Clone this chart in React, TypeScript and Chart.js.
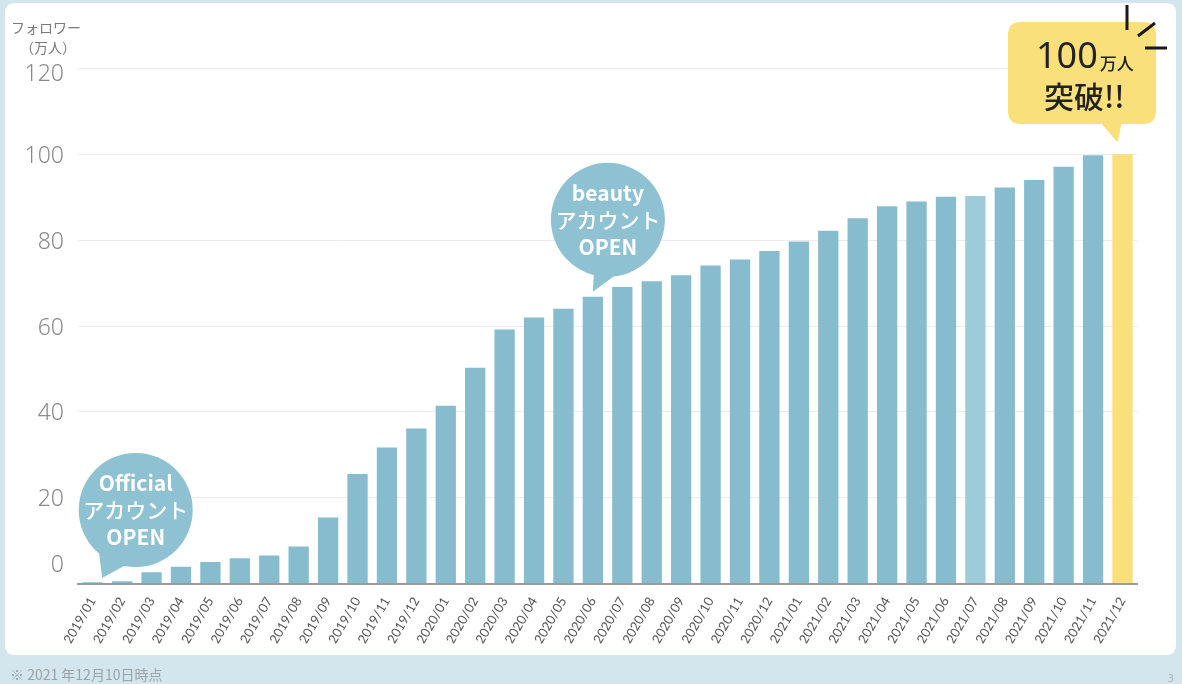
import React, { useEffect, useRef } from "react";
import { Chart, registerables } from "chart.js";

Chart.register(...registerables);

const months = [
  "2019/01", "2019/02", "2019/03", "2019/04", "2019/05", "2019/06",
  "2019/07", "2019/08", "2019/09", "2019/10", "2019/11", "2019/12",
  "2020/01", "2020/02", "2020/03", "2020/04", "2020/05", "2020/06",
  "2020/07", "2020/08", "2020/09", "2020/10", "2020/11", "2020/12",
  "2021/01", "2021/02", "2021/03", "2021/04", "2021/05", "2021/06",
  "2021/07", "2021/08", "2021/09", "2021/10", "2021/11", "2021/12",
];

// followers (万人)
const followers = [
  0.3, 0.5, 2.6, 3.9, 5.0, 5.9, 6.5, 8.6, 15.4, 25.5, 31.7, 36.1,
  41.4, 50.3, 59.2, 62.0, 64.0, 66.8, 69.1, 70.4, 71.8, 74.1, 75.5, 77.5,
  79.7, 82.2, 85.1, 87.9, 89.0, 90.1, 90.3, 92.3, 94.0, 97.1, 99.8, 100,
];

const yTicks = [0, 20, 40, 60, 80, 100, 120];

const BAR = "#86bccd";
const BAR_LIGHT = "#9ecbd9";
const YELLOW = "#f9e07b";
const BUBBLE = "#8ec1d1";
const PAGE_BG = "#d3e5ed";

const barColors = followers.map((_, i) =>
  i === followers.length - 1 ? YELLOW : i === 30 ? BAR_LIGHT : BAR
);

const CJK = '"Noto Sans CJK JP", "Noto Sans", sans-serif';

function roundRect(ctx: CanvasRenderingContext2D, x: number, y: number, w: number, h: number, r: number) {
  ctx.beginPath();
  ctx.moveTo(x + r, y);
  ctx.lineTo(x + w - r, y);
  ctx.quadraticCurveTo(x + w, y, x + w, y + r);
  ctx.lineTo(x + w, y + h - r);
  ctx.quadraticCurveTo(x + w, y + h, x + w - r, y + h);
  ctx.lineTo(x + r, y + h);
  ctx.quadraticCurveTo(x, y + h, x, y + h - r);
  ctx.lineTo(x, y + r);
  ctx.quadraticCurveTo(x, y, x + r, y);
  ctx.closePath();
}

function bubble(
  ctx: CanvasRenderingContext2D,
  cx: number,
  cy: number,
  r: number,
  tail: [number, number][],
  lines: string[]
) {
  ctx.save();
  ctx.fillStyle = BUBBLE;
  ctx.beginPath();
  ctx.arc(cx, cy, r, 0, Math.PI * 2);
  ctx.fill();
  ctx.beginPath();
  ctx.moveTo(tail[0][0], tail[0][1]);
  ctx.lineTo(tail[1][0], tail[1][1]);
  ctx.lineTo(tail[2][0], tail[2][1]);
  ctx.closePath();
  ctx.fill();
  ctx.fillStyle = "#ffffff";
  ctx.textAlign = "center";
  ctx.textBaseline = "middle";
  const gap = 27;
  lines.forEach((t, i) => {
    ctx.font = i === 1 ? `500 21px ${CJK}` : `bold 21px ${CJK}`;
    ctx.fillText(t, cx, cy + (i - 1) * gap);
  });
  ctx.restore();
}

const decorPlugin = {
  id: "decor",
  beforeDraw(chart: any) {
    const ctx: CanvasRenderingContext2D = chart.ctx;
    ctx.save();
    ctx.fillStyle = PAGE_BG;
    ctx.fillRect(0, 0, chart.width, chart.height);
    ctx.fillStyle = "#ffffff";
    roundRect(ctx, 5, 3, 1171, 652, 10);
    ctx.fill();
    ctx.restore();
  },
  afterDraw(chart: any) {
    const ctx: CanvasRenderingContext2D = chart.ctx;
    const xs = chart.scales.x;
    const ys = chart.scales.y;
    ctx.save();

    // y tick labels
    ctx.fillStyle = "#8a8a8a";
    ctx.font = '300 23px "Noto Sans", sans-serif';
    ctx.textAlign = "right";
    ctx.textBaseline = "middle";
    yTicks.forEach((v) => {
      const y = ys.getPixelForValue(v) + (v === 0 ? -18 : v === 120 ? 6 : 2);
      ctx.fillText(String(v), 64, y);
    });

    // axis title
    ctx.fillStyle = "#7a7a7a";
    ctx.font = `14px ${CJK}`;
    ctx.textAlign = "left";
    ctx.fillText("フォロワー", 11, 28);
    ctx.textAlign = "center";
    ctx.fillText("（万人）", 48, 48);

    // Official bubble
    const t1x = xs.getPixelForValue(0) + 9.5;
    const t1y = ys.getPixelForValue(0) - 5.5;
    const c1x = t1x + 33.5;
    const c1y = t1y - 68;
    bubble(
      ctx,
      c1x,
      c1y,
      57,
      [
        [c1x - 37, c1y + 40],
        [c1x - 10, c1y + 55],
        [t1x, t1y],
      ],
      ["Official", "アカウント", "OPEN"]
    );

    // beauty bubble
    const t2x = xs.getPixelForValue(17);
    const t2y = ys.getPixelForValue(followers[17]) - 5;
    const c2x = t2x + 15;
    const c2y = t2y - 72;
    bubble(
      ctx,
      c2x,
      c2y,
      57,
      [
        [c2x - 14, c2y + 52],
        [c2x + 8, c2y + 55],
        [t2x, t2y],
      ],
      ["beauty", "アカウント", "OPEN"]
    );

    // yellow callout
    const last = followers.length - 1;
    const t3x = xs.getPixelForValue(last) - 5;
    const t3y = ys.getPixelForValue(followers[last]) - 12;
    ctx.fillStyle = YELLOW;
    roundRect(ctx, 1008, 22, 148, 102, 13);
    ctx.fill();
    ctx.beginPath();
    ctx.moveTo(1100, 122);
    ctx.lineTo(1122, 122);
    ctx.lineTo(t3x, t3y);
    ctx.closePath();
    ctx.fill();

    ctx.fillStyle = "#222222";
    ctx.textAlign = "left";
    ctx.textBaseline = "alphabetic";
    ctx.font = '36px "Noto Sans", sans-serif';
    ctx.fillText("100", 1036, 68);
    const w100 = ctx.measureText("100").width;
    ctx.font = `500 17px ${CJK}`;
    ctx.textBaseline = "middle";
    ctx.fillText("万人", 1036 + w100 + 2, 64);
    ctx.font = `500 30px ${CJK}`;
    ctx.fillText("突破!!", 1044, 97);

    // burst lines
    ctx.strokeStyle = "#1a1a1a";
    ctx.lineWidth = 3;
    ctx.beginPath();
    ctx.moveTo(1127, 5);
    ctx.lineTo(1127, 30);
    ctx.moveTo(1138, 36);
    ctx.lineTo(1155, 23);
    ctx.moveTo(1145, 48);
    ctx.lineTo(1167, 48);
    ctx.stroke();

    // footnote
    ctx.fillStyle = "#9aa3a7";
    ctx.font = `14px ${CJK}`;
    ctx.textAlign = "left";
    ctx.textBaseline = "middle";
    ctx.fillText("※ 2021 年12月10日時点", 10, 675);
    ctx.font = '10px "Noto Sans", sans-serif';
    ctx.fillStyle = "#b0b0b0";
    ctx.fillText("3", 1168, 679);

    ctx.restore();
  },
};

export default function App() {
  const ref = useRef<HTMLCanvasElement | null>(null);

  useEffect(() => {
    if (!ref.current) return;
    const chart = new Chart(ref.current, {
      type: "bar",
      data: {
        labels: months,
        datasets: [
          {
            label: "フォロワー",
            data: followers,
            backgroundColor: barColors,
            borderWidth: 0,
            barPercentage: 0.69,
            categoryPercentage: 1,
          },
        ],
      },
      options: {
        animation: false,
        responsive: false,
        devicePixelRatio: 1,
        layout: { padding: { left: 0, right: 44.8, top: 68.5, bottom: 40.5 } },
        plugins: {
          legend: { display: false },
          tooltip: { enabled: false },
          title: { display: false },
        },
        scales: {
          x: {
            grid: { display: false },
            border: { display: true, color: "#9a9a9a", width: 2 },
            ticks: {
              autoSkip: false,
              maxRotation: 60,
              minRotation: 60,
              padding: 3,
              color: "#555555",
              font: { family: "Lato, 'Open Sans', sans-serif", size: 13 },
            },
            afterFit: (s: any) => {
              s.height = 60;
              s.paddingLeft = 0;
              s.paddingRight = 0;
            },
          },
          y: {
            min: 0,
            max: 120,
            ticks: { display: false, stepSize: 20 },
            grid: { color: "#ececec", lineWidth: 1, drawTicks: false },
            border: { display: false },
            afterFit: (s: any) => {
              s.width = 78;
              s.paddingTop = 0;
              s.paddingBottom = 0;
            },
          },
        },
      },
      plugins: [decorPlugin],
    });
    return () => chart.destroy();
  }, []);

  return (
    <div style={{ position: "fixed", left: 0, top: 0, width: 1182, height: 684 }}>
      <canvas ref={ref} width={1182} height={684} style={{ width: 1182, height: 684, display: "block" }} />
    </div>
  );
}
